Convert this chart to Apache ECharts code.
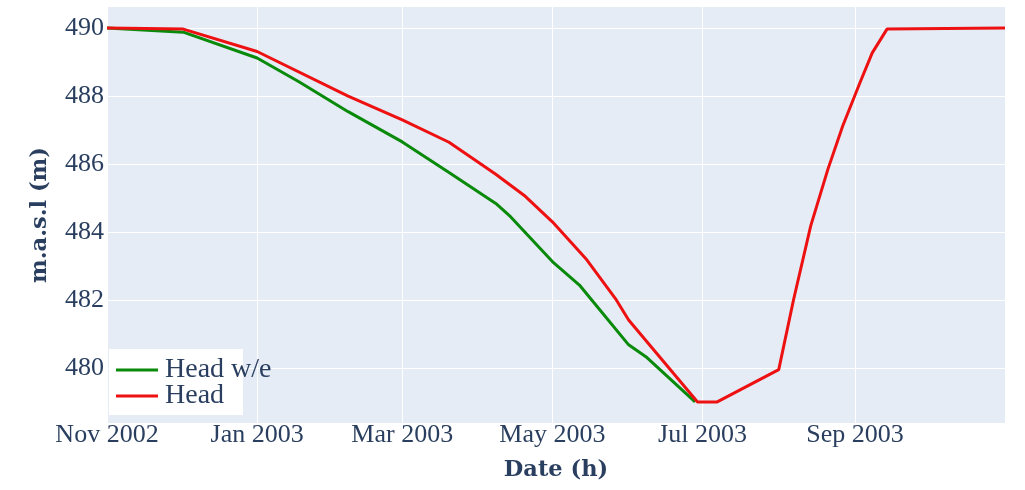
<!DOCTYPE html>
<html>
<head>
<meta charset="utf-8">
<script src="https://cdn.jsdelivr.net/npm/echarts@6/dist/echarts.min.js"></script>
<style>
html,body{margin:0;padding:0;background:#fff;}
#chart{width:1025px;height:490px;}
</style>
</head>
<body>
<div id="chart"></div>
<script>
const monthNames = ['Jan','Feb','Mar','Apr','May','Jun','Jul','Aug','Sep','Oct','Nov','Dec'];

const greenName = 'Head w/e';
const greenDates = ['2002-11-01','2002-12-02','2003-01-01','2003-01-18','2003-02-07','2003-03-01','2003-03-20','2003-04-08','2003-04-14','2003-05-01','2003-05-12','2003-05-17','2003-06-01','2003-06-08','2003-06-28'];
const greenVals  = [490.0, 489.88, 489.12, 488.42, 487.54, 486.65, 485.75, 484.84, 484.45, 483.13, 482.44, 482.0, 480.68, 480.33, 479.0];

const redName = 'Head';
const redDates = ['2002-11-01','2002-12-02','2003-01-01','2003-02-07','2003-03-01','2003-03-20','2003-04-08','2003-04-20','2003-05-01','2003-05-15','2003-05-27','2003-06-01','2003-06-29','2003-07-07','2003-08-01','2003-08-07','2003-08-14','2003-08-21','2003-08-27','2003-09-03','2003-09-08','2003-09-14','2003-10-31T23:00:00'];
const redVals  = [490.0, 489.97, 489.31, 488.0, 487.3, 486.64, 485.7, 485.05, 484.3, 483.18, 482.0, 481.41, 479.0, 479.0, 479.95, 482.0, 484.18, 485.85, 487.12, 488.39, 489.27, 489.97, 490.0];

const xMin = '2002-11-01';
const xMax = '2003-10-31T23:00:00';
const yMin = 478.38;
const yMax = 490.62;

const font = '"Liberation Serif", serif';
const boldFont = '"DejaVu Serif", serif';
const txt = '#2a3f5f';

const chart = echarts.init(document.getElementById('chart'));
chart.setOption({
  animation: false,
  grid: {left: 107, right: 20, top: 7, bottom: 67, show: true, backgroundColor: '#E5ECF6', borderWidth: 0, containLabel: false, outerBoundsMode: 'none'},
  graphic: [
    {type: 'rect', left: 109, top: 349, z: 3, shape: {width: 134, height: 66}, style: {fill: '#ffffff'}}
  ],
  legend: {
    orient: 'vertical', left: 109, top: 349, z: 5,
    padding: [7, 12, 7, 7], itemGap: -2,
    icon: 'rect', itemWidth: 42, itemHeight: 3,
    textStyle: {fontFamily: font, fontSize: 28, lineHeight: 26, color: txt, padding: [0, 0, 0, 2]},
    data: [greenName, redName]
  },
  xAxis: {
    type: 'time', min: xMin, max: xMax,
    name: 'Date (h)', nameLocation: 'middle', nameGap: 36,
    nameTextStyle: {fontFamily: boldFont, fontSize: 22.5, fontWeight: 'bold', color: txt},
    axisLine: {show: false}, axisTick: {show: false},
    splitLine: {show: true, lineStyle: {color: '#ffffff', width: 1}},
    axisLabel: {
      fontFamily: font, fontSize: 26, color: txt, margin: -1,
      formatter: function (v) { const d = new Date(v); return monthNames[d.getMonth()] + ' ' + d.getFullYear(); }
    }
  },
  yAxis: {
    type: 'value', min: yMin, max: yMax,
    name: 'm.a.s.l (m)', nameLocation: 'middle', nameGap: 55,
    nameTextStyle: {fontFamily: boldFont, fontSize: 22.5, fontWeight: 'bold', color: txt},
    axisLine: {show: false}, axisTick: {show: false},
    splitLine: {show: true, showMinLine: false, showMaxLine: false, lineStyle: {color: '#ffffff', width: 1}},
    axisLabel: {fontFamily: font, fontSize: 26, color: txt, margin: 3, showMinLabel: false, showMaxLabel: false}
  },
  series: [
    {name: greenName, type: 'line', symbol: 'none', lineStyle: {color: '#0a8a0a', width: 3}, itemStyle: {color: '#0a8a0a'},
     data: greenDates.map((d, i) => [d, greenVals[i]])},
    {name: redName, type: 'line', symbol: 'none', lineStyle: {color: '#ee1111', width: 3}, itemStyle: {color: '#ee1111'},
     data: redDates.map((d, i) => [d, redVals[i]])}
  ]
});
</script>
</body>
</html>
